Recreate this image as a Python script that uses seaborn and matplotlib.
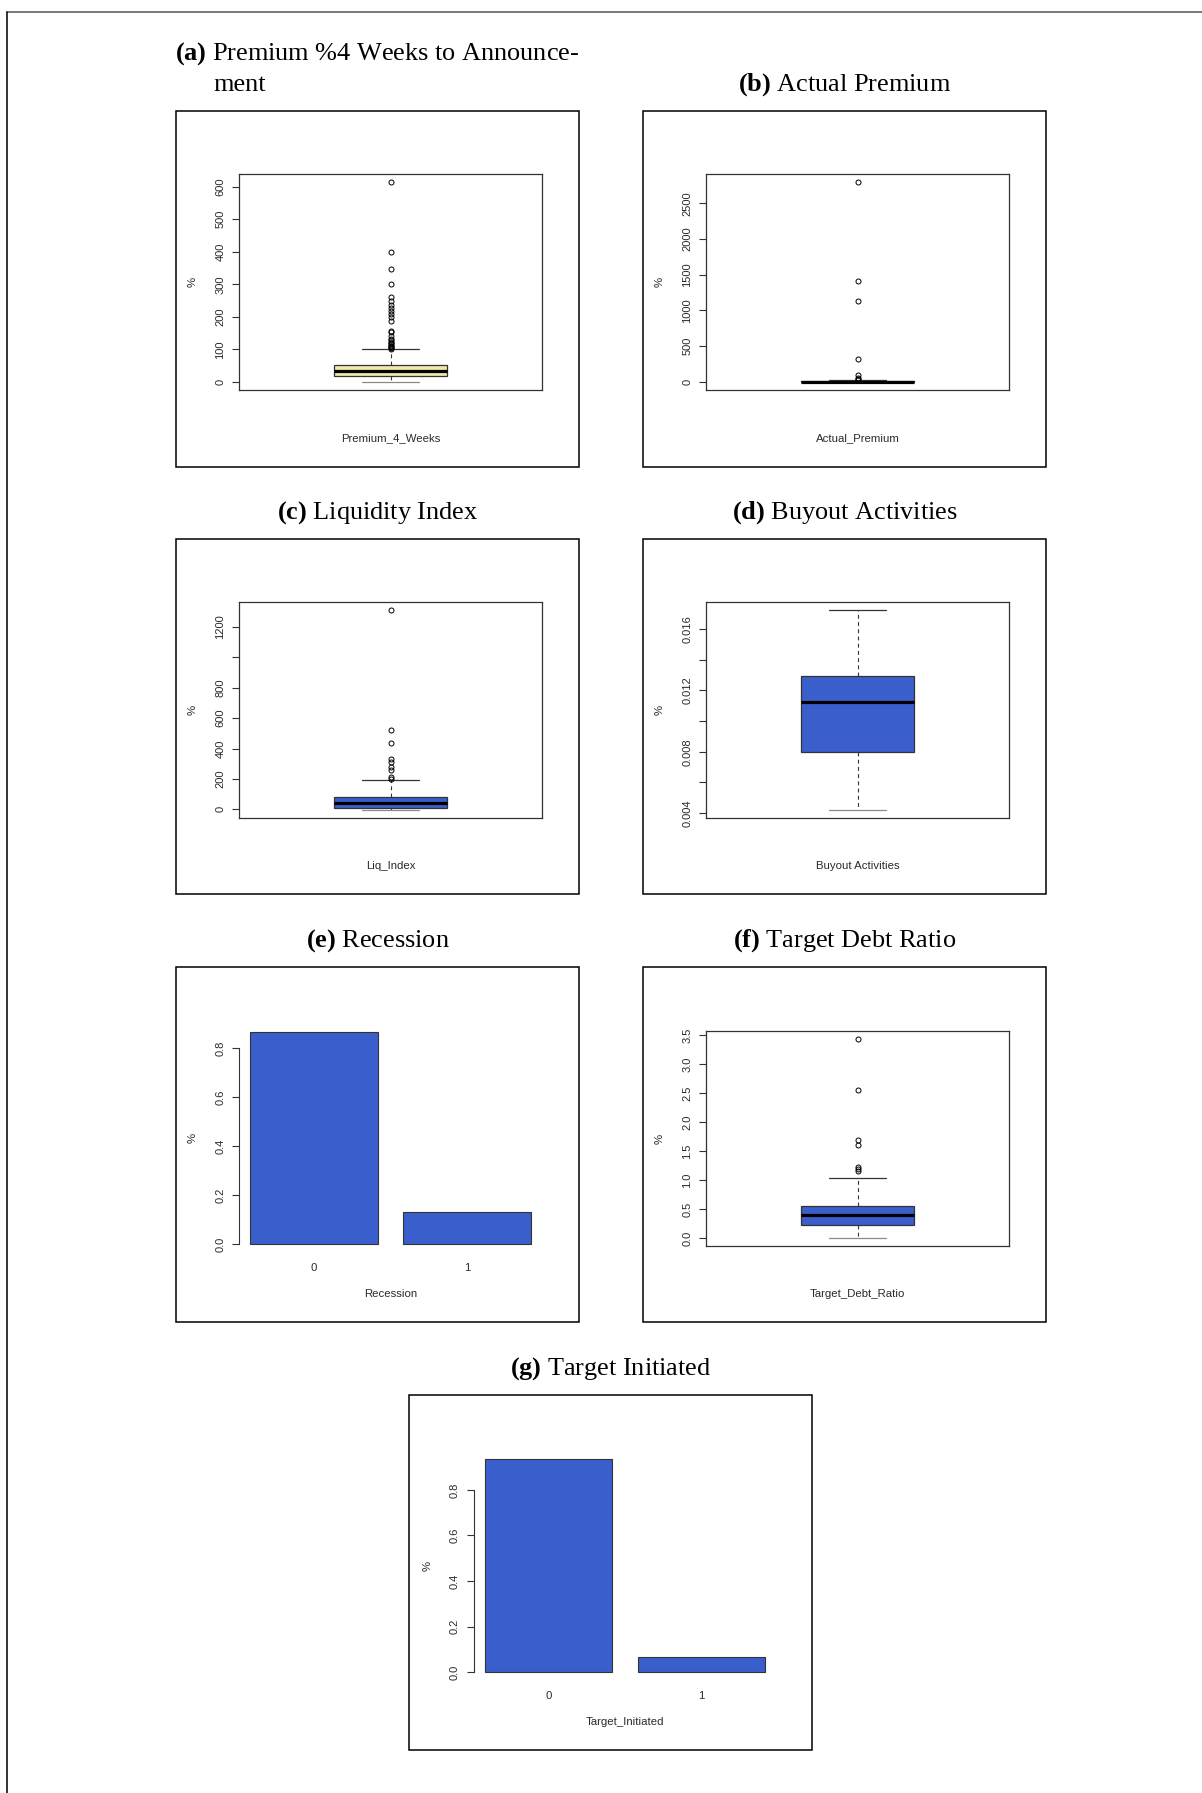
import numpy as np
import pandas as pd
import matplotlib
matplotlib.use("Agg")
import matplotlib.pyplot as plt
from matplotlib.patches import Rectangle
from matplotlib.lines import Line2D
import seaborn as sns

# ---------------- data ----------------
# five-number summaries (lower whisker, Q1, median, Q3, upper whisker) and outliers
premium_4w_stats = [0.0, 18.5, 34.0, 52.5, 100.0]
premium_4w_outliers = [614, 400, 346, 300, 262, 248, 235, 228, 218, 210, 200, 187,
                       157, 152, 140, 133, 128, 124, 120, 116, 112, 109, 106, 104, 102]
premium_4w_ticks = [0, 100, 200, 300, 400, 500, 600]
premium_4w_ticklabels = ["0", "100", "200", "300", "400", "500", "600"]

actual_premium_stats = [-4.0, -1.0, 3.0, 8.0, 22.0]
actual_premium_outliers = [2800, 1410, 1130, 320, 90, 50, 40, 30]
actual_premium_ticks = [0, 500, 1000, 1500, 2000, 2500]
actual_premium_ticklabels = ["0", "500", "1000", "1500", "2000", "2500"]

liq_index_stats = [-4.0, 9.0, 40.0, 83.0, 193.0]
liq_index_outliers = [1312, 521, 439, 330, 315, 277, 259, 211, 202]
liq_index_ticks = [0, 200, 400, 600, 800, 1000, 1200]
liq_index_ticklabels = ["0", "200", "400", "600", "800", "", "1200"]

buyout_stats = [0.0042, 0.0080, 0.01123, 0.01294, 0.01724]
buyout_outliers = []
buyout_ticks = [0.004, 0.006, 0.008, 0.010, 0.012, 0.014, 0.016]
buyout_ticklabels = ["0.004", "", "0.008", "", "0.012", "", "0.016"]

debt_ratio_stats = [0.005, 0.234, 0.40, 0.56, 1.03]
debt_ratio_outliers = [3.43, 2.56, 1.70, 1.60, 1.23, 1.20, 1.16]
debt_ratio_ticks = [0.0, 0.5, 1.0, 1.5, 2.0, 2.5, 3.0, 3.5]
debt_ratio_ticklabels = ["0.0", "0.5", "1.0", "1.5", "2.0", "2.5", "3.0", "3.5"]

recession_levels = ["0", "1"]
recession_share = [0.867, 0.133]
initiated_levels = ["0", "1"]
initiated_share = [0.935, 0.065]
share_ticks = [0.0, 0.2, 0.4, 0.6, 0.8]
share_ticklabels = ["0.0", "0.2", "0.4", "0.6", "0.8"]

# ---------------- style ----------------
sns.set_theme(style="ticks")
plt.rcParams["font.family"] = ["Liberation Sans", "DejaVu Sans"]
plt.rcParams.update({
    "mathtext.fontset": "custom",
    "mathtext.rm": "Liberation Serif",
    "mathtext.bf": "Liberation Serif:bold",
    "mathtext.it": "Liberation Serif:italic",
})

W, H = 1202, 1793
BLUE = "#3A5FCD"
YELLOW = "#EEE8AA"
EDGE = "#333333"
TXT = "#2a2a2a"
TICK_FS = 8.0
LAB_FS = 8.2
TITLE_FS = 18.9

fig = plt.figure(figsize=(W / 100, H / 100), dpi=100)
fig.patch.set_facecolor("white")


def fx(x):
    return x / W


def fy(y):
    return 1 - y / H


def px_axes(l, t, r, b):
    return fig.add_axes([fx(l), fy(b), (r - l) / W, (b - t) / H])


def frame(l, t, r, b):
    fig.add_artist(Rectangle((fx(l), fy(b)), (r - l) / W, (b - t) / H,
                             transform=fig.transFigure, fill=False,
                             ec="black", lw=1.1))


def title(x, y, label, text, ha="center"):
    fig.text(fx(x), fy(y), r"$\mathbf{" + label + "}$ " + text,
             family="Liberation Serif", fontsize=TITLE_FS, color="black",
             ha=ha, va="baseline")


def side_texts(region, outer_top, xlabel):
    l, t, r, b = region
    fig.text(fx(l - 46), fy((t + b) / 2), "%", rotation=90, fontsize=LAB_FS,
             color=TXT, ha="center", va="center")
    fig.text(fx((l + r) / 2), fy(outer_top + 327), xlabel, fontsize=LAB_FS,
             color=TXT, ha="center", va="center")


def style_y(ax, ticks, labels):
    ax.set_yticks(ticks)
    ax.set_yticklabels(labels, rotation=90, va="center")
    ax.tick_params(axis="y", direction="out", length=5.3, width=0.8,
                   color=EDGE, labelsize=TICK_FS, labelcolor=TXT, pad=4.6,
                   left=True)


def box_panel(region, outer, stats, outliers, fill, ticks, labels, xlabel):
    frame(*outer)
    ax = px_axes(*region)
    lo, q1, med, q3, hi = stats
    st = dict(whislo=lo, q1=q1, med=med, q3=q3, whishi=hi, fliers=outliers)
    art = ax.bxp([st], positions=[1], widths=0.37, capwidths=[0.185],
                 patch_artist=True, showfliers=True, manage_ticks=False,
                 boxprops=dict(facecolor=fill, edgecolor=EDGE, linewidth=0.9),
                 medianprops=dict(color="black", linewidth=2.3,
                                  solid_capstyle="butt"),
                 whiskerprops=dict(color=EDGE, linewidth=0.8,
                                   linestyle=(0, (3.5, 3))),
                 capprops=dict(color=EDGE, linewidth=0.9),
                 flierprops=dict(marker="o", markersize=3.6,
                                 markerfacecolor="none",
                                 markeredgecolor="black",
                                 markeredgewidth=0.7, linestyle="none"))
    art["caps"][0].set_color("#8a8a8a")
    vals = [lo, hi] + list(outliers)
    vmin, vmax = min(vals), max(vals)
    pad = 0.04 * (vmax - vmin)
    ax.set_ylim(vmin - pad, vmax + pad)
    ax.set_xlim(0.5, 1.5)
    ax.set_xticks([])
    for s in ax.spines.values():
        s.set_visible(True)
        s.set_color(EDGE)
        s.set_linewidth(0.9)
    style_y(ax, ticks, labels)
    ax.set_facecolor("white")
    side_texts(region, outer[1], xlabel)
    return ax


def bar_panel(region, outer, levels, shares, xlabel):
    frame(*outer)
    ax = px_axes(*region)
    df = pd.DataFrame({"level": levels, "share": shares})
    sns.barplot(data=df, x="level", y="share", ax=ax, color=BLUE,
                saturation=1, width=1 / 1.2, edgecolor=EDGE, linewidth=0.8)
    ax.set_xlabel("")
    ax.set_ylabel("")
    top = max(shares)
    ax.set_ylim(-0.04 * top, 1.04 * top)
    ax.set_xlim(-0.49, 1.49)
    for side in ["top", "right", "bottom"]:
        ax.spines[side].set_visible(False)
    ax.spines["left"].set_bounds(0.0, 0.8)
    ax.spines["left"].set_color(EDGE)
    ax.spines["left"].set_linewidth(0.8)
    style_y(ax, share_ticks, share_ticklabels)
    ax.tick_params(axis="x", length=0, labelsize=LAB_FS, labelcolor=TXT,
                   pad=7)
    ax.set_facecolor("none")
    side_texts(region, outer[1], xlabel)
    return ax


# page border
fig.add_artist(Line2D([fx(6.5), 1.0], [fy(12), fy(12)],
                      transform=fig.transFigure, color="#555555", lw=1.1))
fig.add_artist(Line2D([fx(6.5), fx(6.5)], [fy(12), 0.0],
                      transform=fig.transFigure, color="#111111", lw=1.2))

# row 1
title(175, 59.3, "(a)", "Premium %4 Weeks to Announce-", ha="left")
fig.text(fx(213.3), fy(91), "ment", family="Liberation Serif",
         fontsize=TITLE_FS, color="black", ha="left", va="baseline")
box_panel((239, 174, 542, 390), (176, 111, 579, 467),
          premium_4w_stats, premium_4w_outliers, YELLOW,
          premium_4w_ticks, premium_4w_ticklabels, "Premium_4_Weeks")

title(844.5, 91, "(b)", "Actual Premium")
box_panel((706, 174, 1009, 390), (643, 111, 1046, 467),
          actual_premium_stats, actual_premium_outliers, BLUE,
          actual_premium_ticks, actual_premium_ticklabels, "Actual_Premium")

# row 2
title(377.5, 519, "(c)", "Liquidity Index")
box_panel((239, 602, 542, 818), (176, 539, 579, 894),
          liq_index_stats, liq_index_outliers, BLUE,
          liq_index_ticks, liq_index_ticklabels, "Liq_Index")

title(844.5, 519, "(d)", "Buyout Activities")
box_panel((706, 602, 1009, 818), (643, 539, 1046, 894),
          buyout_stats, buyout_outliers, BLUE,
          buyout_ticks, buyout_ticklabels, "Buyout Activities")

# row 3
title(377.5, 947, "(e)", "Recession")
bar_panel((239, 1023.4, 542, 1252.8), (176, 967, 579, 1322),
          recession_levels, recession_share, "Recession")

title(844.5, 947, "(f)", "Target Debt Ratio")
box_panel((706, 1031, 1009, 1246), (643, 967, 1046, 1322),
          debt_ratio_stats, debt_ratio_outliers, BLUE,
          debt_ratio_ticks, debt_ratio_ticklabels, "Target_Debt_Ratio")

# row 4
title(610.5, 1375, "(g)", "Target Initiated")
bar_panel((473.5, 1450.6, 776.5, 1680.8), (409, 1395, 812, 1750),
          initiated_levels, initiated_share, "Target_Initiated")

fig.savefig("out.png", dpi=100, facecolor="white")
